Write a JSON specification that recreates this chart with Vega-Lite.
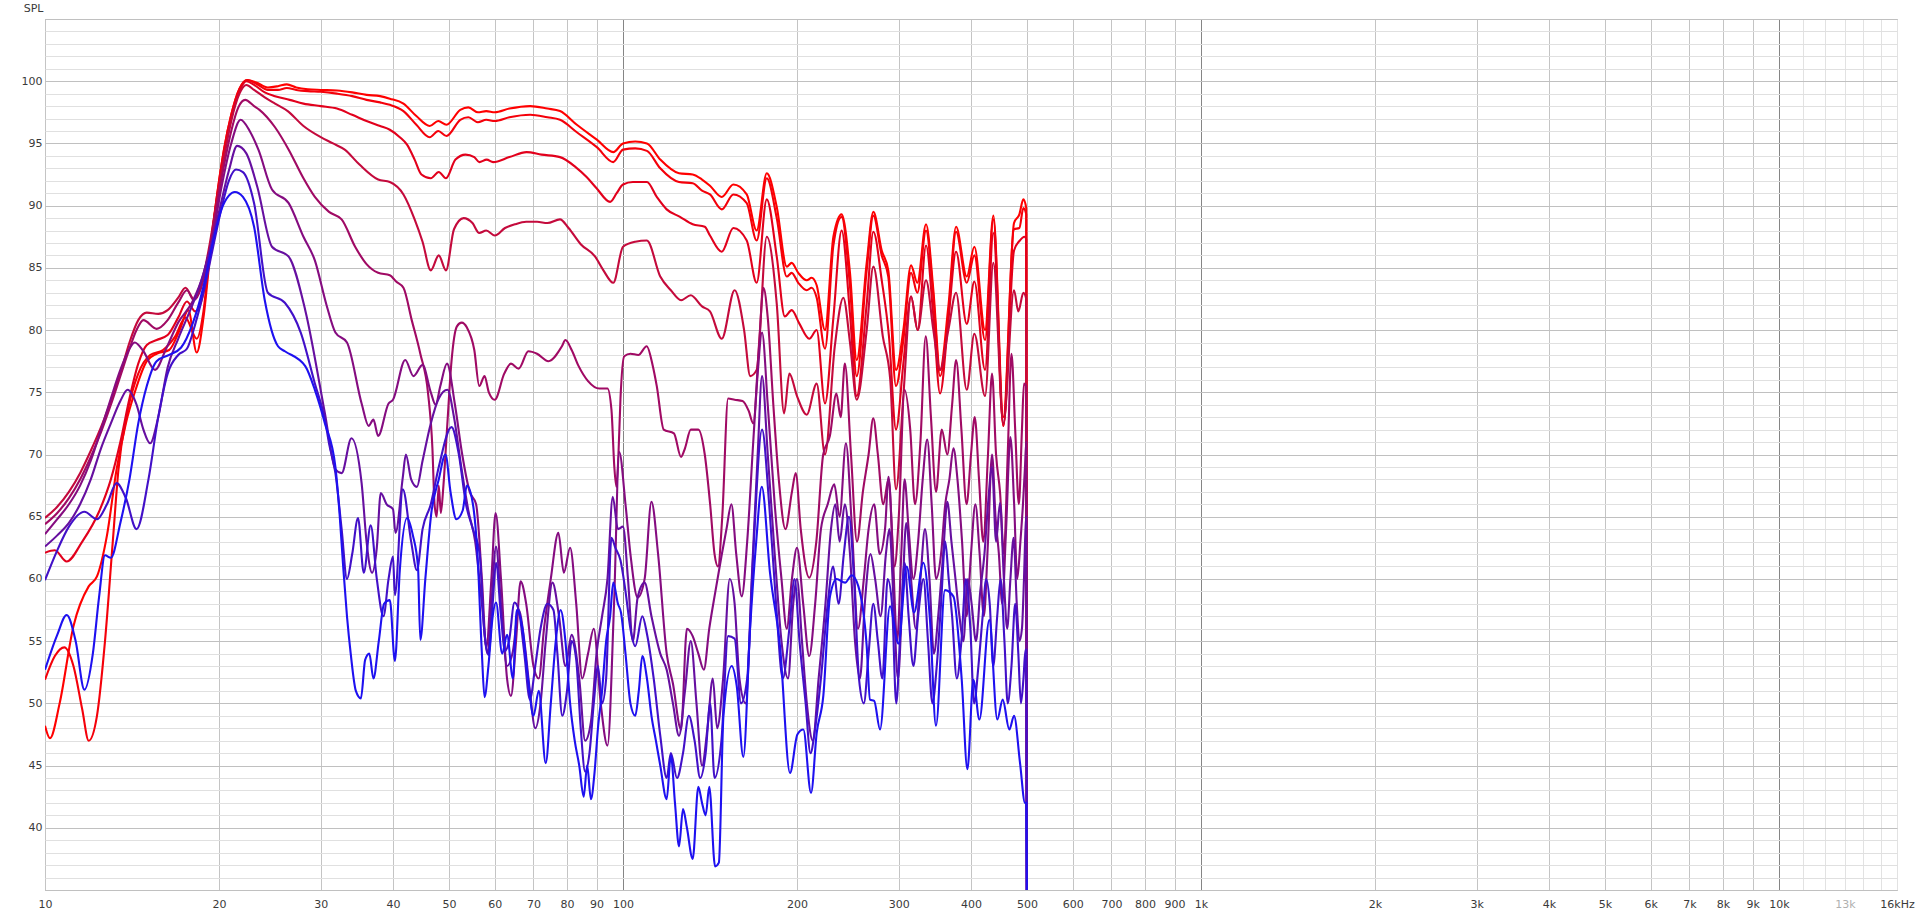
{
  "$schema": "https://vega.github.io/schema/vega-lite/v6.json",
  "width": 1852,
  "height": 871,
  "autosize": {"type": "none"},
  "padding": {"left": 45, "top": 19, "right": 23, "bottom": 26},
  "background": "white",
  "config": {
    "view": {"stroke": "#a8a8a8", "strokeWidth": 1},
    "font": "DejaVu Sans"
  },
  "datasets": {
    "curves": [
      {"s":"1","f":10,"v":48.2},{"s":"1","f":10.2,"v":47.2},{"s":"1","f":10.6,"v":50},{"s":"1","f":11.2,"v":56.2},{"s":"1","f":11.9,"v":59.4},{"s":"1","f":12.3,"v":60.2},{"s":"1","f":12.8,"v":63.5},{"s":"1","f":13.3,"v":68.8},{"s":"1","f":13.8,"v":72.5},{"s":"1","f":14.3,"v":75},{"s":"1","f":15,"v":77.5},{"s":"1","f":15.6,"v":78.1},{"s":"1","f":16.4,"v":78.4},{"s":"1","f":17.1,"v":80},{"s":"1","f":17.7,"v":81.6},{"s":"1","f":18.3,"v":78.2},{"s":"1","f":18.8,"v":81},{"s":"1","f":19.3,"v":86},{"s":"1","f":19.8,"v":90.5},{"s":"1","f":20.4,"v":94.5},{"s":"1","f":21,"v":97.3},{"s":"1","f":21.7,"v":99.4},{"s":"1","f":22.4,"v":100.1},{"s":"1","f":23.2,"v":99.9},{"s":"1","f":24.3,"v":99.5},{"s":"1","f":25.3,"v":99.6},{"s":"1","f":26.2,"v":99.75},{"s":"1","f":27.2,"v":99.5},{"s":"1","f":28.5,"v":99.35},{"s":"1","f":30,"v":99.3},{"s":"1","f":32,"v":99.25},{"s":"1","f":34,"v":99.1},{"s":"1","f":36,"v":98.9},{"s":"1","f":38,"v":98.8},{"s":"1","f":39.5,"v":98.6},{"s":"1","f":41.7,"v":98.2},{"s":"1","f":43.9,"v":97.2},{"s":"1","f":46.3,"v":96.4},{"s":"1","f":47.9,"v":96.8},{"s":"1","f":49.5,"v":96.5},{"s":"1","f":52.3,"v":97.7},{"s":"1","f":54,"v":97.9},{"s":"1","f":56.1,"v":97.5},{"s":"1","f":58,"v":97.6},{"s":"1","f":60,"v":97.5},{"s":"1","f":63.6,"v":97.8},{"s":"1","f":69.1,"v":98},{"s":"1","f":74,"v":97.8},{"s":"1","f":77.8,"v":97.6},{"s":"1","f":83.2,"v":96.5},{"s":"1","f":90.1,"v":95.3},{"s":"1","f":96.2,"v":94.3},{"s":"1","f":100,"v":95},{"s":"1","f":105,"v":95.15},{"s":"1","f":110,"v":95},{"s":"1","f":116,"v":93.7},{"s":"1","f":125,"v":92.6},{"s":"1","f":132,"v":92.5},{"s":"1","f":137,"v":92.1},{"s":"1","f":141.4,"v":91.6},{"s":"1","f":148.2,"v":90.7},{"s":"1","f":155.2,"v":91.7},{"s":"1","f":163.7,"v":90.9},{"s":"1","f":170.3,"v":88},{"s":"1","f":177.3,"v":92.6},{"s":"1","f":184.5,"v":89.9},{"s":"1","f":192,"v":85.1},{"s":"1","f":195.8,"v":85.4},{"s":"1","f":201,"v":84.6},{"s":"1","f":207.9,"v":84},{"s":"1","f":212,"v":84.2},{"s":"1","f":216.3,"v":83.6},{"s":"1","f":223.6,"v":80},{"s":"1","f":231.2,"v":87.5},{"s":"1","f":238.9,"v":89.3},{"s":"1","f":247,"v":84.6},{"s":"1","f":253.7,"v":77.6},{"s":"1","f":264,"v":85.4},{"s":"1","f":271.1,"v":89.5},{"s":"1","f":280.3,"v":86.4},{"s":"1","f":287.7,"v":84.8},{"s":"1","f":296.7,"v":76.8},{"s":"1","f":305.5,"v":80},{"s":"1","f":315,"v":85.2},{"s":"1","f":323,"v":83.8},{"s":"1","f":334.4,"v":88.5},{"s":"1","f":344.3,"v":83.2},{"s":"1","f":353.6,"v":76.8},{"s":"1","f":365.5,"v":81.9},{"s":"1","f":376.9,"v":88.3},{"s":"1","f":393.3,"v":84.3},{"s":"1","f":405.4,"v":86.7},{"s":"1","f":423,"v":80},{"s":"1","f":437.3,"v":89.2},{"s":"1","f":455,"v":73},{"s":"1","f":474.8,"v":88.6},{"s":"1","f":485,"v":89.3},{"s":"1","f":492.7,"v":90.5},{"s":"1","f":498.5,"v":89.8},{"s":"1","f":500,"v":30},

      {"s":"2","f":10,"v":51.9},{"s":"2","f":10.4,"v":53.8},{"s":"2","f":10.8,"v":54.5},{"s":"2","f":11.2,"v":53},{"s":"2","f":11.6,"v":49.5},{"s":"2","f":11.9,"v":47},{"s":"2","f":12.3,"v":49},{"s":"2","f":12.7,"v":55},{"s":"2","f":13.1,"v":63},{"s":"2","f":13.4,"v":68.8},{"s":"2","f":13.9,"v":73.5},{"s":"2","f":14.5,"v":76.5},{"s":"2","f":15.2,"v":78},{"s":"2","f":16,"v":78.4},{"s":"2","f":16.8,"v":79.5},{"s":"2","f":17.5,"v":81},{"s":"2","f":18.3,"v":79.3},{"s":"2","f":18.8,"v":81.5},{"s":"2","f":19.3,"v":86.5},{"s":"2","f":19.8,"v":90.5},{"s":"2","f":20.4,"v":94.5},{"s":"2","f":21,"v":97.3},{"s":"2","f":21.7,"v":99.4},{"s":"2","f":22.4,"v":100.1},{"s":"2","f":23.2,"v":99.8},{"s":"2","f":24.3,"v":99.3},{"s":"2","f":25.3,"v":99.3},{"s":"2","f":26.2,"v":99.45},{"s":"2","f":27.2,"v":99.3},{"s":"2","f":28.5,"v":99.2},{"s":"2","f":30,"v":99.15},{"s":"2","f":32,"v":99},{"s":"2","f":34,"v":98.8},{"s":"2","f":36,"v":98.5},{"s":"2","f":38,"v":98.3},{"s":"2","f":39.5,"v":98.1},{"s":"2","f":41.7,"v":97.6},{"s":"2","f":43.9,"v":96.5},{"s":"2","f":46.3,"v":95.5},{"s":"2","f":47.9,"v":96},{"s":"2","f":49.5,"v":95.6},{"s":"2","f":52.3,"v":96.9},{"s":"2","f":54,"v":97.1},{"s":"2","f":56.1,"v":96.7},{"s":"2","f":58,"v":96.9},{"s":"2","f":60,"v":96.8},{"s":"2","f":63.6,"v":97.1},{"s":"2","f":69.1,"v":97.3},{"s":"2","f":74,"v":97.1},{"s":"2","f":77.8,"v":96.9},{"s":"2","f":83.2,"v":95.9},{"s":"2","f":90.1,"v":94.7},{"s":"2","f":96.2,"v":93.5},{"s":"2","f":100,"v":94.5},{"s":"2","f":105,"v":94.6},{"s":"2","f":110,"v":94.4},{"s":"2","f":116,"v":93},{"s":"2","f":125,"v":91.9},{"s":"2","f":132,"v":91.8},{"s":"2","f":137,"v":91.2},{"s":"2","f":141.4,"v":90.9},{"s":"2","f":148.2,"v":89.7},{"s":"2","f":155.2,"v":90.9},{"s":"2","f":163.7,"v":90.2},{"s":"2","f":170.3,"v":87.2},{"s":"2","f":177.3,"v":92.2},{"s":"2","f":184.5,"v":89},{"s":"2","f":192,"v":84.3},{"s":"2","f":195.8,"v":84.6},{"s":"2","f":201,"v":83.8},{"s":"2","f":207.9,"v":83.2},{"s":"2","f":212,"v":83.4},{"s":"2","f":216.3,"v":82.6},{"s":"2","f":223.6,"v":78.5},{"s":"2","f":231.2,"v":86.8},{"s":"2","f":238.9,"v":89.1},{"s":"2","f":247,"v":83.5},{"s":"2","f":253.7,"v":76.3},{"s":"2","f":264,"v":84.8},{"s":"2","f":271.1,"v":89.2},{"s":"2","f":280.3,"v":86},{"s":"2","f":287.7,"v":84.3},{"s":"2","f":296.7,"v":75.5},{"s":"2","f":305.5,"v":79.2},{"s":"2","f":315,"v":84.6},{"s":"2","f":323,"v":83},{"s":"2","f":334.4,"v":88},{"s":"2","f":344.3,"v":82.7},{"s":"2","f":353.6,"v":76.3},{"s":"2","f":365.5,"v":81.1},{"s":"2","f":376.9,"v":87.9},{"s":"2","f":393.3,"v":83.8},{"s":"2","f":405.4,"v":86},{"s":"2","f":423,"v":79.2},{"s":"2","f":437.3,"v":88.9},{"s":"2","f":455,"v":72.3},{"s":"2","f":474.8,"v":88.1},{"s":"2","f":485,"v":88.2},{"s":"2","f":492.7,"v":89.8},{"s":"2","f":498.5,"v":89.3},{"s":"2","f":500,"v":30},

      {"s":"3","f":10,"v":62.1},{"s":"3","f":10.4,"v":62.3},{"s":"3","f":10.9,"v":61.4},{"s":"3","f":11.6,"v":63},{"s":"3","f":12.4,"v":65.4},{"s":"3","f":13,"v":68},{"s":"3","f":13.5,"v":71},{"s":"3","f":14,"v":74.5},{"s":"3","f":14.5,"v":77.3},{"s":"3","f":15,"v":78.8},{"s":"3","f":15.6,"v":79.2},{"s":"3","f":16.3,"v":79.6},{"s":"3","f":17,"v":81},{"s":"3","f":17.6,"v":82.3},{"s":"3","f":18.2,"v":81.5},{"s":"3","f":18.8,"v":83},{"s":"3","f":19.3,"v":86.5},{"s":"3","f":19.8,"v":90.3},{"s":"3","f":20.4,"v":94.2},{"s":"3","f":21,"v":97},{"s":"3","f":21.7,"v":99.2},{"s":"3","f":22.3,"v":100},{"s":"3","f":23,"v":99.7},{"s":"3","f":24,"v":99.1},{"s":"3","f":25,"v":98.8},{"s":"3","f":26.5,"v":98.5},{"s":"3","f":28,"v":98.2},{"s":"3","f":30,"v":98},{"s":"3","f":32,"v":97.8},{"s":"3","f":34,"v":97.3},{"s":"3","f":36,"v":96.8},{"s":"3","f":38,"v":96.4},{"s":"3","f":39.5,"v":96.1},{"s":"3","f":41.1,"v":95.5},{"s":"3","f":42.3,"v":94.9},{"s":"3","f":43.6,"v":93.7},{"s":"3","f":44.8,"v":92.5},{"s":"3","f":46.5,"v":92.2},{"s":"3","f":48,"v":92.7},{"s":"3","f":49.4,"v":92.2},{"s":"3","f":51.3,"v":93.7},{"s":"3","f":53.4,"v":94.1},{"s":"3","f":55.3,"v":93.9},{"s":"3","f":56.4,"v":93.5},{"s":"3","f":58.1,"v":93.7},{"s":"3","f":59.6,"v":93.5},{"s":"3","f":63.6,"v":93.9},{"s":"3","f":68.1,"v":94.3},{"s":"3","f":72.3,"v":94.1},{"s":"3","f":77.8,"v":93.9},{"s":"3","f":82.8,"v":93.1},{"s":"3","f":86.5,"v":92.3},{"s":"3","f":90,"v":91.4},{"s":"3","f":95,"v":90.3},{"s":"3","f":97.5,"v":91},{"s":"3","f":100,"v":91.7},{"s":"3","f":104,"v":91.9},{"s":"3","f":110,"v":91.9},{"s":"3","f":114.4,"v":90.7},{"s":"3","f":119,"v":89.7},{"s":"3","f":125.5,"v":89.1},{"s":"3","f":132,"v":88.5},{"s":"3","f":138.5,"v":88.3},{"s":"3","f":141.4,"v":87.6},{"s":"3","f":148.2,"v":86.3},{"s":"3","f":155.2,"v":88.2},{"s":"3","f":163.7,"v":87.2},{"s":"3","f":170.3,"v":83.8},{"s":"3","f":177.3,"v":90.5},{"s":"3","f":184.5,"v":85.9},{"s":"3","f":190.5,"v":81.1},{"s":"3","f":195.8,"v":81.6},{"s":"3","f":202,"v":80.5},{"s":"3","f":210,"v":79.3},{"s":"3","f":216.3,"v":80},{"s":"3","f":223.6,"v":74.1},{"s":"3","f":231.2,"v":81},{"s":"3","f":238.9,"v":88},{"s":"3","f":247,"v":81.3},{"s":"3","f":253.7,"v":74.7},{"s":"3","f":264,"v":82.1},{"s":"3","f":271.1,"v":87.9},{"s":"3","f":280.3,"v":84},{"s":"3","f":288.5,"v":79.5},{"s":"3","f":296.7,"v":72},{"s":"3","f":305.5,"v":77.3},{"s":"3","f":315,"v":82.7},{"s":"3","f":323.5,"v":80},{"s":"3","f":334.4,"v":86.8},{"s":"3","f":344.3,"v":81.1},{"s":"3","f":353.6,"v":74.9},{"s":"3","f":365.5,"v":80.8},{"s":"3","f":376.9,"v":86.3},{"s":"3","f":393.3,"v":80.5},{"s":"3","f":405.4,"v":83.9},{"s":"3","f":423,"v":76.8},{"s":"3","f":437.3,"v":87.8},{"s":"3","f":455,"v":72.3},{"s":"3","f":474.8,"v":86.4},{"s":"3","f":486,"v":87.2},{"s":"3","f":495,"v":87.5},{"s":"3","f":498.5,"v":87.3},{"s":"3","f":500,"v":30},

      {"s":"4","f":10,"v":64.9},{"s":"4","f":10.5,"v":65.8},{"s":"4","f":11,"v":67},{"s":"4","f":11.5,"v":68.5},{"s":"4","f":12,"v":70.3},{"s":"4","f":12.5,"v":72.2},{"s":"4","f":13,"v":74.3},{"s":"4","f":13.5,"v":76.5},{"s":"4","f":14,"v":79},{"s":"4","f":14.5,"v":80.8},{"s":"4","f":15,"v":81.4},{"s":"4","f":15.7,"v":81.3},{"s":"4","f":16.3,"v":81.6},{"s":"4","f":17,"v":82.6},{"s":"4","f":17.5,"v":83.4},{"s":"4","f":18.1,"v":82.5},{"s":"4","f":18.6,"v":83.5},{"s":"4","f":19.2,"v":86.5},{"s":"4","f":19.8,"v":90.2},{"s":"4","f":20.4,"v":93.8},{"s":"4","f":21,"v":96.8},{"s":"4","f":21.7,"v":99},{"s":"4","f":22.3,"v":99.7},{"s":"4","f":23,"v":99.3},{"s":"4","f":24,"v":98.7},{"s":"4","f":25,"v":98.2},{"s":"4","f":26.3,"v":97.6},{"s":"4","f":28,"v":96.4},{"s":"4","f":30,"v":95.5},{"s":"4","f":31.5,"v":95},{"s":"4","f":33,"v":94.5},{"s":"4","f":35,"v":93.3},{"s":"4","f":37.7,"v":92.1},{"s":"4","f":39.5,"v":91.9},{"s":"4","f":41.7,"v":90.9},{"s":"4","f":43.6,"v":88.9},{"s":"4","f":45,"v":87.1},{"s":"4","f":46.5,"v":84.8},{"s":"4","f":48,"v":86},{"s":"4","f":49.4,"v":84.8},{"s":"4","f":51,"v":88.1},{"s":"4","f":53,"v":89},{"s":"4","f":54.9,"v":88.6},{"s":"4","f":56.4,"v":87.8},{"s":"4","f":58,"v":88},{"s":"4","f":60,"v":87.6},{"s":"4","f":62.5,"v":88.2},{"s":"4","f":65,"v":88.5},{"s":"4","f":68,"v":88.7},{"s":"4","f":71,"v":88.7},{"s":"4","f":74,"v":88.6},{"s":"4","f":77.8,"v":88.9},{"s":"4","f":80.5,"v":88.2},{"s":"4","f":84.5,"v":86.9},{"s":"4","f":89.5,"v":85.9},{"s":"4","f":92.5,"v":84.8},{"s":"4","f":96.2,"v":83.8},{"s":"4","f":100,"v":86.7},{"s":"4","f":105,"v":87.1},{"s":"4","f":110,"v":87.2},{"s":"4","f":116,"v":84.3},{"s":"4","f":121,"v":83.2},{"s":"4","f":126,"v":82.4},{"s":"4","f":131,"v":82.8},{"s":"4","f":137,"v":81.9},{"s":"4","f":141.4,"v":81.5},{"s":"4","f":148.2,"v":79.3},{"s":"4","f":156,"v":83.2},{"s":"4","f":162,"v":80},{"s":"4","f":166,"v":76.3},{"s":"4","f":170.3,"v":76.8},{"s":"4","f":177.3,"v":87.5},{"s":"4","f":184.5,"v":82.1},{"s":"4","f":190,"v":73.3},{"s":"4","f":194,"v":76.5},{"s":"4","f":200,"v":74.7},{"s":"4","f":207.9,"v":73.2},{"s":"4","f":216.3,"v":75.7},{"s":"4","f":223.6,"v":70},{"s":"4","f":232.5,"v":78.7},{"s":"4","f":240.5,"v":82.6},{"s":"4","f":247,"v":79},{"s":"4","f":253.7,"v":74.4},{"s":"4","f":264,"v":80},{"s":"4","f":271.1,"v":85.1},{"s":"4","f":281.5,"v":79.5},{"s":"4","f":290,"v":76},{"s":"4","f":296.7,"v":67.2},{"s":"4","f":305.5,"v":74.7},{"s":"4","f":315,"v":82.7},{"s":"4","f":323.5,"v":80},{"s":"4","f":334.4,"v":84},{"s":"4","f":344.3,"v":80},{"s":"4","f":353.6,"v":76.8},{"s":"4","f":365.5,"v":80},{"s":"4","f":376.9,"v":83},{"s":"4","f":393.3,"v":75.2},{"s":"4","f":405.4,"v":79.7},{"s":"4","f":423,"v":74.7},{"s":"4","f":437.3,"v":85.4},{"s":"4","f":455,"v":72.5},{"s":"4","f":474.8,"v":83.2},{"s":"4","f":483,"v":81.5},{"s":"4","f":492.7,"v":83},{"s":"4","f":498.5,"v":82.5},{"s":"4","f":500,"v":30},

      {"s":"5","f":10,"v":64.4},{"s":"5","f":10.5,"v":65.3},{"s":"5","f":11,"v":66.5},{"s":"5","f":11.5,"v":68},{"s":"5","f":12,"v":69.8},{"s":"5","f":12.5,"v":71.8},{"s":"5","f":13,"v":74},{"s":"5","f":13.5,"v":76.3},{"s":"5","f":14,"v":78.5},{"s":"5","f":14.4,"v":80},{"s":"5","f":14.8,"v":80.8},{"s":"5","f":15.6,"v":80.1},{"s":"5","f":16.3,"v":80.8},{"s":"5","f":17,"v":82.2},{"s":"5","f":17.6,"v":83.2},{"s":"5","f":18.1,"v":82.4},{"s":"5","f":18.6,"v":83.3},{"s":"5","f":19.2,"v":86},{"s":"5","f":19.8,"v":89.8},{"s":"5","f":20.4,"v":93.2},{"s":"5","f":21,"v":96},{"s":"5","f":21.6,"v":97.9},{"s":"5","f":22.2,"v":98.5},{"s":"5","f":23,"v":98},{"s":"5","f":23.5,"v":97.7},{"s":"5","f":25,"v":96.3},{"s":"5","f":26.4,"v":94.5},{"s":"5","f":28,"v":92.2},{"s":"5","f":29.3,"v":90.7},{"s":"5","f":31,"v":89.5},{"s":"5","f":32.6,"v":88.9},{"s":"5","f":34.4,"v":86.7},{"s":"5","f":36,"v":85.3},{"s":"5","f":37.7,"v":84.6},{"s":"5","f":39.5,"v":84.4},{"s":"5","f":40.5,"v":83.9},{"s":"5","f":41.7,"v":83.4},{"s":"5","f":43.1,"v":80.8},{"s":"5","f":44.6,"v":78.1},{"s":"5","f":46,"v":74.9},{"s":"5","f":46.8,"v":70.5},{"s":"5","f":47.2,"v":66},{"s":"5","f":47.6,"v":65},{"s":"5","f":48,"v":67.5},{"s":"5","f":48.4,"v":65.3},{"s":"5","f":48.9,"v":67.5},{"s":"5","f":49.6,"v":72},{"s":"5","f":50.5,"v":77.5},{"s":"5","f":51.6,"v":80.3},{"s":"5","f":52.6,"v":80.6},{"s":"5","f":53.7,"v":80.2},{"s":"5","f":55.3,"v":78.4},{"s":"5","f":56.4,"v":75.5},{"s":"5","f":57.6,"v":76.3},{"s":"5","f":58.6,"v":75},{"s":"5","f":60,"v":74.4},{"s":"5","f":62.3,"v":76.5},{"s":"5","f":64,"v":77.3},{"s":"5","f":66,"v":76.9},{"s":"5","f":68.6,"v":78.3},{"s":"5","f":71,"v":78.1},{"s":"5","f":74.3,"v":77.5},{"s":"5","f":78.4,"v":78.7},{"s":"5","f":79.5,"v":79.2},{"s":"5","f":81.5,"v":78.4},{"s":"5","f":83.8,"v":77.1},{"s":"5","f":87,"v":75.9},{"s":"5","f":91,"v":75.3},{"s":"5","f":94,"v":75.3},{"s":"5","f":95.5,"v":73.6},{"s":"5","f":96.6,"v":69},{"s":"5","f":97.4,"v":67.4},{"s":"5","f":98.2,"v":70},{"s":"5","f":99,"v":74.5},{"s":"5","f":100.5,"v":77.9},{"s":"5","f":103,"v":78.1},{"s":"5","f":106.3,"v":78},{"s":"5","f":109.9,"v":78.7},{"s":"5","f":112.5,"v":77.2},{"s":"5","f":114.4,"v":75.5},{"s":"5","f":117.6,"v":72},{"s":"5","f":122.5,"v":71.7},{"s":"5","f":126,"v":69.8},{"s":"5","f":128,"v":70.5},{"s":"5","f":131,"v":72},{"s":"5","f":135,"v":72},{"s":"5","f":138.5,"v":70},{"s":"5","f":141.5,"v":66},{"s":"5","f":144,"v":62},{"s":"5","f":146,"v":61},{"s":"5","f":148.5,"v":65},{"s":"5","f":152,"v":74.5},{"s":"5","f":156,"v":74.4},{"s":"5","f":161,"v":74.3},{"s":"5","f":165,"v":73.5},{"s":"5","f":168,"v":72.5},{"s":"5","f":172,"v":79},{"s":"5","f":175,"v":83.4},{"s":"5","f":178,"v":81},{"s":"5","f":182,"v":74},{"s":"5","f":186,"v":68},{"s":"5","f":191,"v":64},{"s":"5","f":196,"v":67},{"s":"5","f":199,"v":68.5},{"s":"5","f":203,"v":64},{"s":"5","f":210,"v":60.1},{"s":"5","f":216,"v":63},{"s":"5","f":222,"v":70},{"s":"5","f":228,"v":71.5},{"s":"5","f":234,"v":74.9},{"s":"5","f":238,"v":73},{"s":"5","f":242,"v":77.3},{"s":"5","f":248,"v":70},{"s":"5","f":254,"v":63},{"s":"5","f":260,"v":67},{"s":"5","f":266,"v":70},{"s":"5","f":271,"v":72.9},{"s":"5","f":276,"v":70},{"s":"5","f":282,"v":66},{"s":"5","f":288,"v":68},{"s":"5","f":295,"v":61},{"s":"5","f":300,"v":65},{"s":"5","f":307,"v":75.2},{"s":"5","f":314,"v":72},{"s":"5","f":320,"v":66},{"s":"5","f":327,"v":71},{"s":"5","f":334,"v":79.5},{"s":"5","f":341,"v":73},{"s":"5","f":348,"v":67},{"s":"5","f":356,"v":72},{"s":"5","f":364,"v":70},{"s":"5","f":371,"v":74},{"s":"5","f":377,"v":77.6},{"s":"5","f":385,"v":72},{"s":"5","f":393,"v":66},{"s":"5","f":400,"v":70},{"s":"5","f":406,"v":73},{"s":"5","f":413,"v":68},{"s":"5","f":420,"v":63},{"s":"5","f":428,"v":70},{"s":"5","f":435,"v":76.5},{"s":"5","f":442,"v":70},{"s":"5","f":449,"v":67},{"s":"5","f":456,"v":62},{"s":"5","f":463,"v":70},{"s":"5","f":470,"v":78.1},{"s":"5","f":477,"v":72},{"s":"5","f":484,"v":66},{"s":"5","f":490,"v":72},{"s":"5","f":494,"v":75.7},{"s":"5","f":498.5,"v":75.5},{"s":"5","f":500,"v":30},

      {"s":"6","f":10,"v":63.6},{"s":"6","f":10.5,"v":64.8},{"s":"6","f":11,"v":66},{"s":"6","f":11.5,"v":67.5},{"s":"6","f":12,"v":69.5},{"s":"6","f":12.5,"v":72},{"s":"6","f":13,"v":74.5},{"s":"6","f":13.5,"v":76.8},{"s":"6","f":14,"v":78.5},{"s":"6","f":14.3,"v":79},{"s":"6","f":14.8,"v":78.3},{"s":"6","f":15.5,"v":76.8},{"s":"6","f":16.2,"v":78.5},{"s":"6","f":17,"v":80.6},{"s":"6","f":18,"v":82.3},{"s":"6","f":18.8,"v":84.5},{"s":"6","f":19.5,"v":87.5},{"s":"6","f":20.2,"v":91.5},{"s":"6","f":21,"v":95},{"s":"6","f":21.8,"v":96.9},{"s":"6","f":22.6,"v":96},{"s":"6","f":23.4,"v":94.5},{"s":"6","f":24.7,"v":91.3},{"s":"6","f":26.4,"v":90.2},{"s":"6","f":28,"v":87.5},{"s":"6","f":29.3,"v":85.6},{"s":"6","f":30.7,"v":82},{"s":"6","f":31.8,"v":79.8},{"s":"6","f":33.3,"v":79},{"s":"6","f":35.3,"v":74.1},{"s":"6","f":36.3,"v":72.3},{"s":"6","f":37,"v":72.8},{"s":"6","f":37.7,"v":71.5},{"s":"6","f":39.3,"v":74.1},{"s":"6","f":40,"v":74.4},{"s":"6","f":42,"v":77.6},{"s":"6","f":43.4,"v":76.3},{"s":"6","f":45,"v":77.2},{"s":"6","f":46.5,"v":75},{"s":"6","f":47.4,"v":74},{"s":"6","f":48.3,"v":75.5},{"s":"6","f":49.6,"v":77.3},{"s":"6","f":51.2,"v":74},{"s":"6","f":52.7,"v":70},{"s":"6","f":54.3,"v":67},{"s":"6","f":55.7,"v":66},{"s":"6","f":57,"v":60},{"s":"6","f":58,"v":54.5},{"s":"6","f":59.2,"v":60},{"s":"6","f":60.2,"v":65.3},{"s":"6","f":61.5,"v":60},{"s":"6","f":63,"v":52},{"s":"6","f":64,"v":50.6},{"s":"6","f":65.3,"v":55},{"s":"6","f":66.5,"v":59.8},{"s":"6","f":68,"v":58},{"s":"6","f":70,"v":53},{"s":"6","f":71.5,"v":52},{"s":"6","f":73,"v":56},{"s":"6","f":75,"v":60},{"s":"6","f":77.3,"v":63.7},{"s":"6","f":79,"v":60.5},{"s":"6","f":81,"v":62.5},{"s":"6","f":83,"v":58},{"s":"6","f":85,"v":52},{"s":"6","f":87,"v":54},{"s":"6","f":89,"v":56},{"s":"6","f":91.5,"v":50},{"s":"6","f":94,"v":46.6},{"s":"6","f":96.5,"v":58},{"s":"6","f":98.5,"v":70.2},{"s":"6","f":101,"v":66},{"s":"6","f":103,"v":62},{"s":"6","f":106,"v":58.5},{"s":"6","f":109,"v":60},{"s":"6","f":112,"v":66.2},{"s":"6","f":115,"v":62},{"s":"6","f":119,"v":54},{"s":"6","f":122,"v":51.6},{"s":"6","f":126,"v":47.9},{"s":"6","f":129,"v":56},{"s":"6","f":132,"v":55.4},{"s":"6","f":135,"v":54},{"s":"6","f":138,"v":52.7},{"s":"6","f":141,"v":56},{"s":"6","f":144.5,"v":59},{"s":"6","f":148,"v":61.8},{"s":"6","f":151,"v":64},{"s":"6","f":154,"v":66},{"s":"6","f":157,"v":62},{"s":"6","f":160.5,"v":58.6},{"s":"6","f":164,"v":63},{"s":"6","f":168,"v":71},{"s":"6","f":171,"v":76.5},{"s":"6","f":174,"v":79.8},{"s":"6","f":178,"v":74},{"s":"6","f":183,"v":66},{"s":"6","f":188,"v":60},{"s":"6","f":192,"v":56},{"s":"6","f":196,"v":60},{"s":"6","f":200,"v":62.5},{"s":"6","f":205,"v":58},{"s":"6","f":210,"v":53.8},{"s":"6","f":215,"v":58},{"s":"6","f":220,"v":64},{"s":"6","f":226,"v":66},{"s":"6","f":232,"v":67.6},{"s":"6","f":237,"v":65},{"s":"6","f":243,"v":70.9},{"s":"6","f":249,"v":64},{"s":"6","f":255,"v":56},{"s":"6","f":261,"v":60},{"s":"6","f":266,"v":64},{"s":"6","f":272,"v":66},{"s":"6","f":278,"v":62},{"s":"6","f":284,"v":64},{"s":"6","f":288,"v":68.2},{"s":"6","f":293,"v":62},{"s":"6","f":298,"v":55},{"s":"6","f":303,"v":62},{"s":"6","f":307,"v":68},{"s":"6","f":312,"v":64},{"s":"6","f":318,"v":60},{"s":"6","f":324,"v":63},{"s":"6","f":330,"v":68},{"s":"6","f":336,"v":71.2},{"s":"6","f":342,"v":66},{"s":"6","f":348,"v":60},{"s":"6","f":355,"v":62},{"s":"6","f":361,"v":66},{"s":"6","f":367,"v":68},{"s":"6","f":373,"v":70.5},{"s":"6","f":379,"v":68},{"s":"6","f":386,"v":63},{"s":"6","f":393,"v":57},{"s":"6","f":400,"v":62},{"s":"6","f":407,"v":66},{"s":"6","f":414,"v":62},{"s":"6","f":421,"v":57},{"s":"6","f":428,"v":63},{"s":"6","f":435,"v":70},{"s":"6","f":441,"v":65},{"s":"6","f":447,"v":62},{"s":"6","f":453,"v":58},{"s":"6","f":460,"v":64},{"s":"6","f":468,"v":71.4},{"s":"6","f":475,"v":66},{"s":"6","f":481,"v":60},{"s":"6","f":487,"v":63},{"s":"6","f":492,"v":66},{"s":"6","f":496,"v":69},{"s":"6","f":498.5,"v":71},{"s":"6","f":500,"v":30},

      {"s":"7","f":10,"v":62.6},{"s":"7","f":10.5,"v":63.5},{"s":"7","f":11,"v":64.5},{"s":"7","f":11.5,"v":66},{"s":"7","f":12,"v":68},{"s":"7","f":12.5,"v":70.5},{"s":"7","f":13,"v":72.5},{"s":"7","f":13.5,"v":74.3},{"s":"7","f":13.9,"v":75.2},{"s":"7","f":14.4,"v":74},{"s":"7","f":14.8,"v":72},{"s":"7","f":15.2,"v":70.9},{"s":"7","f":15.7,"v":73},{"s":"7","f":16.3,"v":77},{"s":"7","f":17,"v":79.3},{"s":"7","f":17.8,"v":81.5},{"s":"7","f":18.5,"v":83.5},{"s":"7","f":19.3,"v":86.5},{"s":"7","f":20,"v":89.5},{"s":"7","f":20.8,"v":92.8},{"s":"7","f":21.5,"v":94.8},{"s":"7","f":22.3,"v":94.2},{"s":"7","f":23.3,"v":91.5},{"s":"7","f":24.7,"v":86.7},{"s":"7","f":26.4,"v":85.9},{"s":"7","f":28.2,"v":81.6},{"s":"7","f":30.5,"v":73.3},{"s":"7","f":31.8,"v":68.8},{"s":"7","f":32.6,"v":68.5},{"s":"7","f":33.9,"v":71.3},{"s":"7","f":35.3,"v":67.7},{"s":"7","f":36,"v":63},{"s":"7","f":36.8,"v":60.5},{"s":"7","f":37.5,"v":62.5},{"s":"7","f":38.1,"v":66.9},{"s":"7","f":39,"v":66},{"s":"7","f":40,"v":65.6},{"s":"7","f":40.4,"v":63.7},{"s":"7","f":41.6,"v":68.2},{"s":"7","f":42.1,"v":70},{"s":"7","f":43,"v":68},{"s":"7","f":44,"v":67.4},{"s":"7","f":45,"v":69.5},{"s":"7","f":46.5,"v":72.5},{"s":"7","f":48,"v":74.5},{"s":"7","f":49.7,"v":75.2},{"s":"7","f":51,"v":73},{"s":"7","f":52.5,"v":69},{"s":"7","f":54,"v":65.5},{"s":"7","f":55.5,"v":63},{"s":"7","f":57,"v":58},{"s":"7","f":58.3,"v":54},{"s":"7","f":59.2,"v":58},{"s":"7","f":60.3,"v":62.6},{"s":"7","f":61.5,"v":58},{"s":"7","f":63,"v":53},{"s":"7","f":64.5,"v":54.2},{"s":"7","f":66,"v":57.5},{"s":"7","f":67.5,"v":55},{"s":"7","f":69,"v":51},{"s":"7","f":70.5,"v":48},{"s":"7","f":72,"v":50},{"s":"7","f":73.5,"v":55},{"s":"7","f":75.5,"v":59.7},{"s":"7","f":77.5,"v":57},{"s":"7","f":79.5,"v":53},{"s":"7","f":81.5,"v":55.5},{"s":"7","f":84,"v":52},{"s":"7","f":86,"v":47},{"s":"7","f":88,"v":48.5},{"s":"7","f":90,"v":54},{"s":"7","f":92,"v":57},{"s":"7","f":94,"v":60},{"s":"7","f":96,"v":66.6},{"s":"7","f":98,"v":64},{"s":"7","f":100,"v":64.2},{"s":"7","f":102,"v":60},{"s":"7","f":104,"v":55},{"s":"7","f":106,"v":58.5},{"s":"7","f":109,"v":59.7},{"s":"7","f":112,"v":57},{"s":"7","f":116,"v":54},{"s":"7","f":119,"v":52.7},{"s":"7","f":122,"v":50},{"s":"7","f":125,"v":47.4},{"s":"7","f":128,"v":51},{"s":"7","f":131,"v":55},{"s":"7","f":134,"v":50},{"s":"7","f":137,"v":45},{"s":"7","f":140,"v":48},{"s":"7","f":143,"v":52},{"s":"7","f":145.5,"v":48},{"s":"7","f":149,"v":52},{"s":"7","f":153,"v":60},{"s":"7","f":156,"v":58},{"s":"7","f":159,"v":52},{"s":"7","f":163,"v":50},{"s":"7","f":167,"v":60},{"s":"7","f":171,"v":70},{"s":"7","f":174,"v":76.3},{"s":"7","f":178,"v":70},{"s":"7","f":183,"v":62},{"s":"7","f":188,"v":55},{"s":"7","f":193,"v":52},{"s":"7","f":197,"v":58},{"s":"7","f":200,"v":60},{"s":"7","f":204,"v":55},{"s":"7","f":208,"v":50},{"s":"7","f":213,"v":47},{"s":"7","f":218,"v":52},{"s":"7","f":224,"v":58},{"s":"7","f":229,"v":64},{"s":"7","f":233,"v":66},{"s":"7","f":237,"v":63},{"s":"7","f":242,"v":66},{"s":"7","f":247,"v":62},{"s":"7","f":252,"v":55},{"s":"7","f":257,"v":52},{"s":"7","f":262,"v":58},{"s":"7","f":268,"v":62},{"s":"7","f":273,"v":60},{"s":"7","f":279,"v":57},{"s":"7","f":285,"v":62},{"s":"7","f":289,"v":64},{"s":"7","f":294,"v":58},{"s":"7","f":299,"v":52},{"s":"7","f":304,"v":58},{"s":"7","f":309,"v":64.5},{"s":"7","f":315,"v":60},{"s":"7","f":321,"v":56},{"s":"7","f":327,"v":60},{"s":"7","f":333,"v":64},{"s":"7","f":339,"v":60},{"s":"7","f":345,"v":54},{"s":"7","f":351,"v":57},{"s":"7","f":358,"v":62},{"s":"7","f":364,"v":66.2},{"s":"7","f":370,"v":63},{"s":"7","f":376,"v":60},{"s":"7","f":382,"v":57},{"s":"7","f":388,"v":55},{"s":"7","f":395,"v":60},{"s":"7","f":401,"v":58},{"s":"7","f":408,"v":55},{"s":"7","f":415,"v":59},{"s":"7","f":422,"v":62},{"s":"7","f":428,"v":66},{"s":"7","f":435,"v":69},{"s":"7","f":442,"v":63},{"s":"7","f":449,"v":66.1},{"s":"7","f":456,"v":60},{"s":"7","f":462,"v":56},{"s":"7","f":468,"v":60},{"s":"7","f":474,"v":63.3},{"s":"7","f":480,"v":58},{"s":"7","f":485,"v":55},{"s":"7","f":490,"v":56},{"s":"7","f":494,"v":60},{"s":"7","f":497,"v":64},{"s":"7","f":498.5,"v":65},{"s":"7","f":500,"v":30},

      {"s":"8","f":10,"v":59.9},{"s":"8","f":10.5,"v":62.3},{"s":"8","f":11,"v":64.2},{"s":"8","f":11.7,"v":65.4},{"s":"8","f":12.3,"v":64.8},{"s":"8","f":12.8,"v":66},{"s":"8","f":13.3,"v":67.7},{"s":"8","f":13.8,"v":66.5},{"s":"8","f":14.4,"v":64},{"s":"8","f":15.1,"v":68},{"s":"8","f":15.7,"v":73},{"s":"8","f":16.3,"v":76.5},{"s":"8","f":17,"v":78},{"s":"8","f":17.6,"v":78.5},{"s":"8","f":18.2,"v":80.5},{"s":"8","f":18.8,"v":83},{"s":"8","f":19.5,"v":86.5},{"s":"8","f":20.2,"v":89.8},{"s":"8","f":20.8,"v":92},{"s":"8","f":21.4,"v":92.9},{"s":"8","f":22,"v":92.7},{"s":"8","f":23,"v":90.2},{"s":"8","f":24.3,"v":83},{"s":"8","f":26,"v":82.2},{"s":"8","f":27.7,"v":79.8},{"s":"8","f":29.3,"v":75.7},{"s":"8","f":30.5,"v":72.8},{"s":"8","f":31,"v":70.9},{"s":"8","f":31.8,"v":68.5},{"s":"8","f":32.6,"v":64},{"s":"8","f":33.3,"v":60},{"s":"8","f":34,"v":62},{"s":"8","f":34.8,"v":64.9},{"s":"8","f":35.6,"v":60.5},{"s":"8","f":36.6,"v":64.3},{"s":"8","f":37.5,"v":60},{"s":"8","f":38.5,"v":57},{"s":"8","f":39.3,"v":60},{"s":"8","f":40,"v":61.8},{"s":"8","f":40.3,"v":58.7},{"s":"8","f":41.6,"v":67.2},{"s":"8","f":43,"v":63},{"s":"8","f":44,"v":60.7},{"s":"8","f":45,"v":64},{"s":"8","f":46.5,"v":66},{"s":"8","f":48,"v":69},{"s":"8","f":50.5,"v":72.2},{"s":"8","f":52,"v":70},{"s":"8","f":53.5,"v":66},{"s":"8","f":55,"v":64},{"s":"8","f":56.5,"v":62},{"s":"8","f":57.5,"v":56},{"s":"8","f":58.5,"v":53.9},{"s":"8","f":59.5,"v":58},{"s":"8","f":60.3,"v":61.3},{"s":"8","f":61.5,"v":57},{"s":"8","f":62.5,"v":54.2},{"s":"8","f":63.5,"v":55},{"s":"8","f":64.9,"v":58.1},{"s":"8","f":66,"v":57.5},{"s":"8","f":67.5,"v":54},{"s":"8","f":69,"v":50.3},{"s":"8","f":70.5,"v":53},{"s":"8","f":72,"v":56},{"s":"8","f":74,"v":58},{"s":"8","f":75.8,"v":57.5},{"s":"8","f":77,"v":54},{"s":"8","f":78.5,"v":49},{"s":"8","f":80,"v":51},{"s":"8","f":81.5,"v":55},{"s":"8","f":83,"v":53.5},{"s":"8","f":84.5,"v":48},{"s":"8","f":86,"v":44.5},{"s":"8","f":87.5,"v":46},{"s":"8","f":89,"v":50},{"s":"8","f":90.5,"v":53},{"s":"8","f":92,"v":50},{"s":"8","f":93.5,"v":52},{"s":"8","f":95.5,"v":63.3},{"s":"8","f":97,"v":62.5},{"s":"8","f":99,"v":61.5},{"s":"8","f":101,"v":59},{"s":"8","f":103,"v":56},{"s":"8","f":105,"v":54.6},{"s":"8","f":108,"v":57},{"s":"8","f":110,"v":55.6},{"s":"8","f":113,"v":52},{"s":"8","f":116,"v":47.4},{"s":"8","f":119,"v":44},{"s":"8","f":121,"v":46},{"s":"8","f":124,"v":44},{"s":"8","f":127,"v":46},{"s":"8","f":130,"v":49},{"s":"8","f":133,"v":47},{"s":"8","f":136,"v":44},{"s":"8","f":139,"v":46},{"s":"8","f":141.5,"v":50},{"s":"8","f":144,"v":44},{"s":"8","f":148,"v":47},{"s":"8","f":152,"v":55.4},{"s":"8","f":156,"v":55.2},{"s":"8","f":160,"v":50},{"s":"8","f":164,"v":52},{"s":"8","f":168,"v":62},{"s":"8","f":174,"v":72},{"s":"8","f":179,"v":66},{"s":"8","f":184,"v":58},{"s":"8","f":189,"v":52},{"s":"8","f":194,"v":56},{"s":"8","f":198,"v":60},{"s":"8","f":202,"v":55},{"s":"8","f":207,"v":50},{"s":"8","f":211,"v":46},{"s":"8","f":215,"v":48},{"s":"8","f":220,"v":52},{"s":"8","f":226,"v":58},{"s":"8","f":231,"v":61},{"s":"8","f":236,"v":58},{"s":"8","f":241,"v":62},{"s":"8","f":246,"v":65},{"s":"8","f":251,"v":60},{"s":"8","f":256,"v":52},{"s":"8","f":261,"v":50},{"s":"8","f":266,"v":54},{"s":"8","f":271,"v":58},{"s":"8","f":276,"v":55},{"s":"8","f":281,"v":52},{"s":"8","f":287,"v":60},{"s":"8","f":292,"v":58},{"s":"8","f":297,"v":50},{"s":"8","f":302,"v":56},{"s":"8","f":307,"v":61.3},{"s":"8","f":312,"v":57},{"s":"8","f":318,"v":53},{"s":"8","f":324,"v":57},{"s":"8","f":331,"v":60},{"s":"8","f":337,"v":55},{"s":"8","f":343,"v":50},{"s":"8","f":349,"v":53},{"s":"8","f":355,"v":58},{"s":"8","f":361,"v":63},{"s":"8","f":366,"v":60},{"s":"8","f":371,"v":57},{"s":"8","f":378,"v":52},{"s":"8","f":385,"v":55},{"s":"8","f":392,"v":60},{"s":"8","f":399,"v":56},{"s":"8","f":405,"v":50},{"s":"8","f":412,"v":53},{"s":"8","f":419,"v":57},{"s":"8","f":425,"v":60},{"s":"8","f":431,"v":58},{"s":"8","f":437,"v":53},{"s":"8","f":444,"v":57},{"s":"8","f":450,"v":60},{"s":"8","f":457,"v":55},{"s":"8","f":463,"v":50},{"s":"8","f":470,"v":53},{"s":"8","f":477,"v":58},{"s":"8","f":483,"v":54},{"s":"8","f":488,"v":50},{"s":"8","f":493,"v":52},{"s":"8","f":497,"v":54.3},{"s":"8","f":498.5,"v":54.3},{"s":"8","f":500,"v":30},

      {"s":"9","f":10,"v":52.7},{"s":"9","f":10.5,"v":55.5},{"s":"9","f":10.9,"v":57.1},{"s":"9","f":11.3,"v":55},{"s":"9","f":11.7,"v":51.1},{"s":"9","f":12.1,"v":54},{"s":"9","f":12.4,"v":58.5},{"s":"9","f":12.7,"v":61.9},{"s":"9","f":13,"v":61.7},{"s":"9","f":13.5,"v":64.5},{"s":"9","f":14,"v":68},{"s":"9","f":14.5,"v":72.5},{"s":"9","f":15,"v":75.5},{"s":"9","f":15.6,"v":77.5},{"s":"9","f":16.4,"v":78},{"s":"9","f":17.2,"v":78.6},{"s":"9","f":18,"v":80.5},{"s":"9","f":18.8,"v":83.5},{"s":"9","f":19.5,"v":87},{"s":"9","f":20.2,"v":89.7},{"s":"9","f":20.8,"v":90.8},{"s":"9","f":21.3,"v":91.1},{"s":"9","f":22,"v":90.7},{"s":"9","f":23,"v":88.3},{"s":"9","f":24,"v":82.4},{"s":"9","f":25.3,"v":78.7},{"s":"9","f":26,"v":78.3},{"s":"9","f":28.2,"v":77.1},{"s":"9","f":29.3,"v":75.2},{"s":"9","f":30.5,"v":72.5},{"s":"9","f":31.8,"v":69},{"s":"9","f":32.3,"v":65.5},{"s":"9","f":32.8,"v":61},{"s":"9","f":33.3,"v":57},{"s":"9","f":33.8,"v":54},{"s":"9","f":34.5,"v":51},{"s":"9","f":35.2,"v":50.4},{"s":"9","f":35.8,"v":53.5},{"s":"9","f":36.4,"v":54},{"s":"9","f":37,"v":52},{"s":"9","f":37.8,"v":55},{"s":"9","f":38.6,"v":58},{"s":"9","f":39.5,"v":58.3},{"s":"9","f":40.3,"v":53.4},{"s":"9","f":41.1,"v":60.7},{"s":"9","f":42.3,"v":64.9},{"s":"9","f":43.3,"v":63.5},{"s":"9","f":44.2,"v":60.9},{"s":"9","f":44.6,"v":55.1},{"s":"9","f":45.5,"v":60},{"s":"9","f":46.6,"v":65.3},{"s":"9","f":48,"v":68},{"s":"9","f":49.3,"v":70},{"s":"9","f":50.3,"v":67},{"s":"9","f":51.5,"v":64.8},{"s":"9","f":52.8,"v":65.5},{"s":"9","f":53.7,"v":67.5},{"s":"9","f":55,"v":66},{"s":"9","f":56,"v":62},{"s":"9","f":57,"v":54},{"s":"9","f":57.6,"v":50.5},{"s":"9","f":58.5,"v":53},{"s":"9","f":59.5,"v":57},{"s":"9","f":60.3,"v":58.1},{"s":"9","f":61.8,"v":54},{"s":"9","f":63,"v":55.5},{"s":"9","f":64.5,"v":52},{"s":"9","f":65.5,"v":57.5},{"s":"9","f":67,"v":56},{"s":"9","f":68.5,"v":52},{"s":"9","f":70,"v":49},{"s":"9","f":71.5,"v":51},{"s":"9","f":73.5,"v":45.2},{"s":"9","f":75,"v":50},{"s":"9","f":76.5,"v":55},{"s":"9","f":78,"v":57.5},{"s":"9","f":79.5,"v":55},{"s":"9","f":81,"v":50},{"s":"9","f":82.5,"v":47},{"s":"9","f":84,"v":45},{"s":"9","f":85.5,"v":42.5},{"s":"9","f":86.7,"v":45},{"s":"9","f":88,"v":42.3},{"s":"9","f":89.3,"v":44.5},{"s":"9","f":90.5,"v":48},{"s":"9","f":92,"v":51},{"s":"9","f":93.5,"v":55},{"s":"9","f":95,"v":57},{"s":"9","f":96.2,"v":59.7},{"s":"9","f":98,"v":58},{"s":"9","f":99.2,"v":57.3},{"s":"9","f":101,"v":54},{"s":"9","f":103,"v":50},{"s":"9","f":105,"v":49},{"s":"9","f":106.5,"v":51},{"s":"9","f":108,"v":53.8},{"s":"9","f":110,"v":52},{"s":"9","f":112,"v":49},{"s":"9","f":114,"v":47},{"s":"9","f":116,"v":45},{"s":"9","f":119,"v":42.3},{"s":"9","f":121,"v":45.8},{"s":"9","f":123,"v":42},{"s":"9","f":125,"v":38.5},{"s":"9","f":127,"v":41.5},{"s":"9","f":129,"v":40},{"s":"9","f":132,"v":37.5},{"s":"9","f":135,"v":43.3},{"s":"9","f":137,"v":42},{"s":"9","f":139,"v":41},{"s":"9","f":141,"v":43.3},{"s":"9","f":144.3,"v":36.9},{"s":"9","f":146.5,"v":37.2},{"s":"9","f":149.2,"v":49},{"s":"9","f":154.2,"v":53},{"s":"9","f":157.3,"v":51.4},{"s":"9","f":161.5,"v":45.7},{"s":"9","f":165.9,"v":56},{"s":"9","f":170,"v":63},{"s":"9","f":173.8,"v":67.4},{"s":"9","f":179.6,"v":60.5},{"s":"9","f":186.9,"v":54.6},{"s":"9","f":194.5,"v":44.4},{"s":"9","f":200.3,"v":47.5},{"s":"9","f":205.1,"v":47.9},{"s":"9","f":211.5,"v":42.8},{"s":"9","f":216.3,"v":47.6},{"s":"9","f":222.1,"v":50.6},{"s":"9","f":228.1,"v":58.6},{"s":"9","f":234.2,"v":60},{"s":"9","f":242.2,"v":59.7},{"s":"9","f":248.7,"v":60.3},{"s":"9","f":255.4,"v":59.4},{"s":"9","f":264,"v":54.6},{"s":"9","f":267.5,"v":50.3},{"s":"9","f":272,"v":50.2},{"s":"9","f":278.4,"v":47.9},{"s":"9","f":289.7,"v":57.8},{"s":"9","f":299.5,"v":54.8},{"s":"9","f":309.6,"v":61},{"s":"9","f":318.8,"v":57.3},{"s":"9","f":330.8,"v":61.3},{"s":"9","f":339.7,"v":56.7},{"s":"9","f":347.9,"v":48.2},{"s":"9","f":360.6,"v":59.1},{"s":"9","f":372.9,"v":58.6},{"s":"9","f":385.5,"v":51.9},{"s":"9","f":394.3,"v":44.7},{"s":"9","f":403.8,"v":51.9},{"s":"9","f":413.6,"v":48.7},{"s":"9","f":430.3,"v":56.7},{"s":"9","f":444.2,"v":48.7},{"s":"9","f":453.8,"v":50.3},{"s":"9","f":466,"v":47.9},{"s":"9","f":474.8,"v":49},{"s":"9","f":486.3,"v":45.2},{"s":"9","f":496,"v":42},{"s":"9","f":498.5,"v":42},{"s":"9","f":500,"v":30}
    ]
  },
  "data": {"name": "curves"},
  "mark": {"type": "line", "interpolate": "monotone", "strokeWidth": 2.1, "clip": true},
  "encoding": {
    "x": {
      "field": "f",
      "type": "quantitative",
      "scale": {"type": "log", "domain": [10, 16000], "nice": false},
      "axis": {
        "title": null,
        "values": [10, 20, 30, 40, 50, 60, 70, 80, 90, 100, 200, 300, 400, 500, 600, 700, 800, 900, 1000, 2000, 3000, 4000, 5000, 6000, 7000, 8000, 9000, 10000, 11000, 12000, 13000, 14000, 15000, 16000],
        "labelExpr": "datum.value == 16000 ? '16kHz' : (datum.value == 11000 || datum.value == 12000 || datum.value == 14000 || datum.value == 15000) ? '' : datum.value >= 1000 ? (datum.value / 1000) + 'k' : '' + datum.value",
        "labelOverlap": false,
        "labelFlush": false,
        "labelFont": "DejaVu Sans",
        "labelFontSize": 11,
        "labelPadding": 8,
        "labelColor": {"condition": {"test": "datum.value == 13000", "value": "#b0b0b0"}, "value": "#3a3a3a"},
        "ticks": false,
        "domain": false,
        "grid": true,
        "gridWidth": 1,
        "gridOpacity": 1,
        "gridColor": {"condition": [{"test": "datum.value == 100 || datum.value == 1000 || datum.value == 10000", "value": "#858585"}, {"test": "datum.value > 10000", "value": "#e2e2e2"}], "value": "#c4c4c4"}
      }
    },
    "y": {
      "field": "v",
      "type": "quantitative",
      "scale": {"domain": [35, 105], "nice": false, "zero": false},
      "axis": {
        "title": "SPL",
        "titleAngle": 0,
        "titleX": -2,
        "titleY": -11,
        "titleAlign": "right",
        "titleBaseline": "middle",
        "titleFont": "DejaVu Sans",
        "titleFontSize": 11,
        "titleFontWeight": "normal",
        "titleColor": "#3a3a3a",
        "values": [35,36,37,38,39,40,41,42,43,44,45,46,47,48,49,50,51,52,53,54,55,56,57,58,59,60,61,62,63,64,65,66,67,68,69,70,71,72,73,74,75,76,77,78,79,80,81,82,83,84,85,86,87,88,89,90,91,92,93,94,95,96,97,98,99,100,101,102,103,104,105],
        "labelExpr": "(datum.value % 5 == 0 && datum.value >= 40 && datum.value <= 100) ? '' + datum.value : ''",
        "labelOverlap": false,
        "labelFont": "DejaVu Sans",
        "labelFontSize": 11,
        "labelPadding": 3,
        "labelColor": "#3a3a3a",
        "ticks": false,
        "domain": false,
        "grid": true,
        "gridWidth": 1,
        "gridOpacity": 1,
        "gridColor": {"condition": {"test": "datum.value % 5 == 0", "value": "#c0c0c0"}, "value": "#e0e0e0"}
      }
    },
    "color": {
      "field": "s",
      "type": "nominal",
      "scale": {"domain": ["1","2","3","4","5","6","7","8","9"], "range": ["#ff0000","#f4000a","#e2001c","#c40a3c","#a00a64","#850c80","#660fa0","#4210c8","#1e10f0"]},
      "legend": null
    }
  }
}
